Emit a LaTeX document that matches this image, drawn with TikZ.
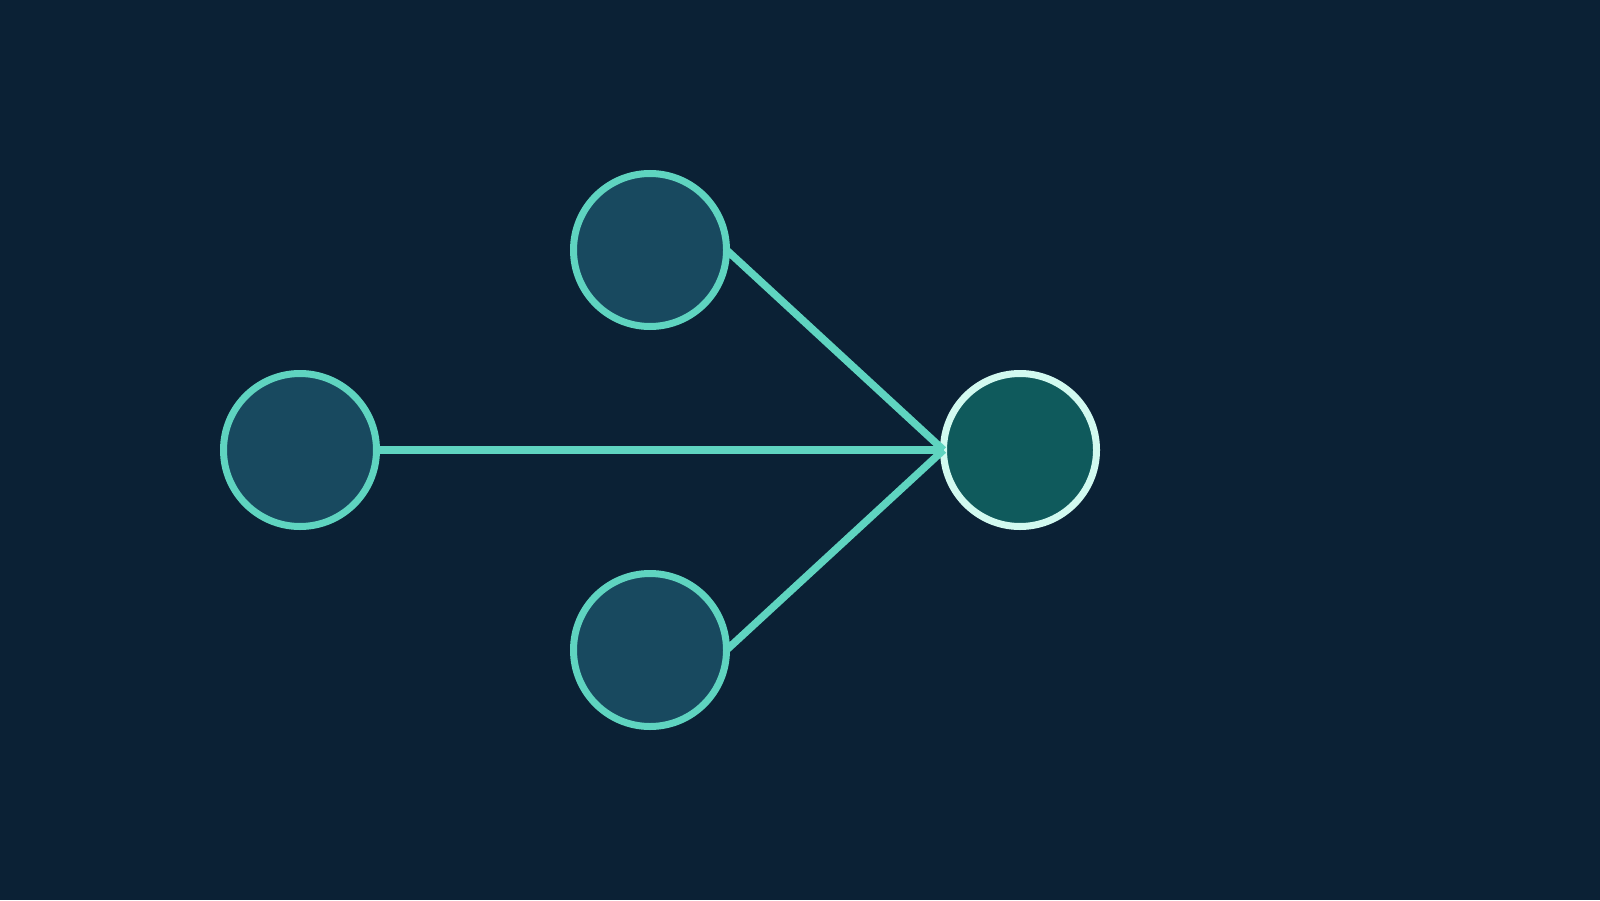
\documentclass[tikz,border=0pt]{standalone}
\definecolor{bgc}{HTML}{0B2135}
\definecolor{nodefill}{HTML}{18495F}
\definecolor{nodeline}{HTML}{5FD4C0}
\definecolor{hubfill}{HTML}{0F5A5C}
\definecolor{hubline}{HTML}{D2FAF0}
\tikzset{
  src/.style={circle, minimum size=1.53cm, inner sep=0pt, outer sep=0pt, fill=nodefill, draw=nodeline, line width=0.07cm},
  hub/.style={circle, minimum size=1.53cm, inner sep=0pt, outer sep=0pt, fill=hubfill, draw=hubline, line width=0.07cm},
  link/.style={draw=nodeline, line width=0.075cm}
}
\begin{document}
\begin{tikzpicture}
\fill[bgc] (0,0) rectangle (16,9);
\useasboundingbox (0,0) rectangle (16,9);
\node[src] (a) at (3,4.5) {};
\node[src] (b) at (6.5,6.5) {};
\node[src] (c) at (6.5,2.5) {};
\node[hub] (d) at (10.2,4.5) {};
\draw[link] (a.east) -- (d.west);
\draw[link] (b.east) -- (d.west);
\draw[link] (c.east) -- (d.west);
\end{tikzpicture}
\end{document}
